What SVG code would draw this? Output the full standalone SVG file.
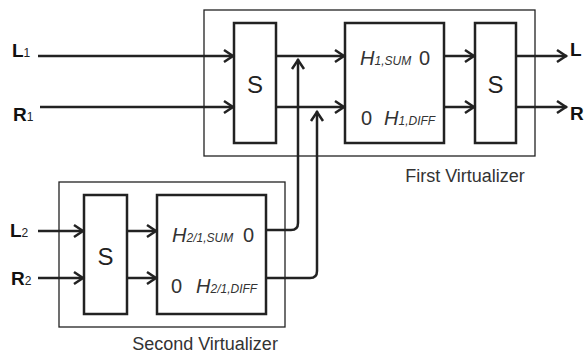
<svg xmlns="http://www.w3.org/2000/svg" width="585" height="356" viewBox="0 0 585 356">
<style>
.outer{fill:none;stroke:#222;stroke-width:1.3}
.blk{fill:#fff;stroke:#222;stroke-width:2.5}
.wire{fill:none;stroke:#222;stroke-width:2.5;stroke-linejoin:round}
.lbl{font-family:"Liberation Sans",Arial,sans-serif;font-weight:bold;font-size:19px;fill:#111}
.sub{font-family:"Liberation Sans",Arial,sans-serif;font-weight:normal;font-size:12px;fill:#222}
.s{font-family:"Liberation Sans",Arial,sans-serif;font-size:24px;fill:#222;text-anchor:middle}
.h{font-family:"Liberation Sans",Arial,sans-serif;font-style:italic;font-size:20px;fill:#333}
.hs{font-family:"Liberation Sans",Arial,sans-serif;font-style:italic;font-size:12px;fill:#333}
.z{font-family:"Liberation Sans",Arial,sans-serif;font-size:20px;fill:#333}
.cap{font-family:"Liberation Sans",Arial,sans-serif;font-size:18px;fill:#333;text-anchor:middle}
</style>
<defs>
<marker id="arr" viewBox="-13 -8 15 16" refX="0" refY="0" markerWidth="15" markerHeight="16" markerUnits="userSpaceOnUse" orient="auto">
<path d="M-10,-6 L-1,0 L-10,6" fill="none" stroke="#222" stroke-width="2.5"/>
</marker>
</defs>
<g id="first-virtualizer">
<rect class="outer" x="204" y="10" width="331" height="146"/>
<text class="cap" x="465" y="182">First Virtualizer</text>
</g>
<g id="second-virtualizer">
<rect class="outer" x="59" y="182" width="226" height="145"/>
<text class="cap" x="205" y="350">Second Virtualizer</text>
</g>
<g id="s1">
<rect class="blk" x="234" y="23" width="42" height="120"/>
<text class="s" x="255" y="93">S</text>
</g>
<g id="h1">
<rect class="blk" x="345" y="23" width="99" height="120"/>
<text x="360" y="65"><tspan class="h">H</tspan><tspan class="hs">1,SUM</tspan></text>
<text class="z" x="419" y="65">0</text>
<text class="z" x="361" y="125">0</text>
<text x="384" y="125"><tspan class="h">H</tspan><tspan class="hs">1,DIFF</tspan></text>
</g>
<g id="s2">
<rect class="blk" x="475" y="23" width="41" height="120"/>
<text class="s" x="495.5" y="93">S</text>
</g>
<g id="s3">
<rect class="blk" x="84" y="195" width="43" height="119"/>
<text class="s" x="105.5" y="265">S</text>
</g>
<g id="h2">
<rect class="blk" x="157" y="195" width="109" height="119"/>
<text x="172" y="242"><tspan class="h">H</tspan><tspan class="hs">2/1,SUM</tspan></text>
<text class="z" x="243" y="242">0</text>
<text class="z" x="171" y="293">0</text>
<text x="196" y="293"><tspan class="h">H</tspan><tspan class="hs">2/1,DIFF</tspan></text>
</g>
<g id="labels">
<text class="lbl" x="12" y="57">L<tspan class="sub">1</tspan></text>
<text class="lbl" x="13" y="121">R<tspan class="sub">1</tspan></text>
<text class="lbl" x="10" y="237">L<tspan class="sub">2</tspan></text>
<text class="lbl" x="11" y="285">R<tspan class="sub">2</tspan></text>
<text class="lbl" x="570" y="56">L</text>
<text class="lbl" x="570" y="120">R</text>
</g>
<g id="connectors">
<path class="wire" marker-end="url(#arr)" d="M38,56 H234"/>
<path class="wire" marker-end="url(#arr)" d="M40,107 H234"/>
<path class="wire" marker-end="url(#arr)" d="M276,56 H345"/>
<path class="wire" marker-end="url(#arr)" d="M276,107 H345"/>
<path class="wire" marker-end="url(#arr)" d="M444,56 H475"/>
<path class="wire" marker-end="url(#arr)" d="M444,107 H475"/>
<path class="wire" marker-end="url(#arr)" d="M516,56 H567"/>
<path class="wire" marker-end="url(#arr)" d="M516,107 H567"/>
<path class="wire" marker-end="url(#arr)" d="M38,231 H84"/>
<path class="wire" marker-end="url(#arr)" d="M38,278 H84"/>
<path class="wire" marker-end="url(#arr)" d="M127,231 H157"/>
<path class="wire" marker-end="url(#arr)" d="M127,278 H157"/>
<path class="wire" marker-end="url(#arr)" d="M266,230 H291 Q298,230 298,223 V59"/>
<path class="wire" marker-end="url(#arr)" d="M266,278 H310 Q317,278 317,271 V111"/>
</g>
</svg>
